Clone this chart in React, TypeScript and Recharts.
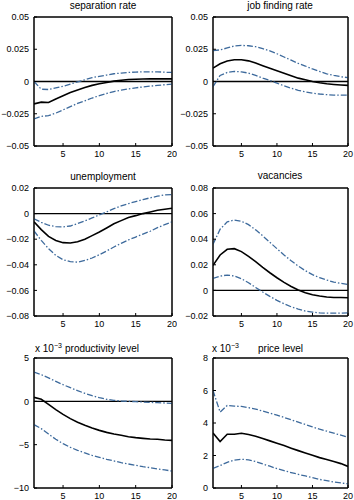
import React from 'react'
import { LineChart, Line, XAxis, YAxis, ReferenceLine, ReferenceArea } from 'recharts'

// horizon (quarters)
const steps = [1, 2, 3, 4, 5, 6, 7, 8, 9, 10, 11, 12, 13, 14, 15, 16, 17, 18, 19, 20]
const xTicks = [5, 10, 15, 20]

// separation rate
const sepMid = [-0.0174, -0.016, -0.0163, -0.0135, -0.011, -0.0086, -0.0065, -0.0047, -0.003, -0.0018, -0.0008, 0.0003, 0.001, 0.0015, 0.0018, 0.0019, 0.002, 0.002, 0.002, 0.002]
const sepUp = [0, -0.006, -0.0062, -0.005, -0.0037, -0.002, -0.0003, 0.0013, 0.003, 0.004, 0.005, 0.006, 0.0065, 0.007, 0.0073, 0.0075, 0.0075, 0.0075, 0.0072, 0.007]
const sepLo = [-0.029, -0.027, -0.0265, -0.0245, -0.022, -0.0195, -0.017, -0.015, -0.0128, -0.011, -0.0093, -0.0078, -0.0067, -0.0057, -0.0049, -0.0042, -0.0036, -0.003, -0.0025, -0.002]

// job finding rate
const jfMid = [0.0104, 0.0138, 0.0159, 0.0169, 0.0169, 0.016, 0.0143, 0.0122, 0.0102, 0.0083, 0.0063, 0.0044, 0.0026, 0.0013, 0, -0.001, -0.0018, -0.0023, -0.0027, -0.003]
const jfUp = [0.024, 0.0245, 0.026, 0.0275, 0.028, 0.0277, 0.027, 0.0255, 0.0237, 0.0215, 0.019, 0.0165, 0.014, 0.012, 0.0097, 0.0078, 0.006, 0.0047, 0.0037, 0.003]
const jfLo = [-0.004, 0.0047, 0.007, 0.0078, 0.0075, 0.0065, 0.0047, 0.0026, 0.0008, -0.0013, -0.0034, -0.0052, -0.0068, -0.008, -0.009, -0.0097, -0.0102, -0.0105, -0.0106, -0.0106]

// unemployment
const unMid = [-0.0065, -0.0125, -0.0178, -0.021, -0.0227, -0.023, -0.022, -0.02, -0.0172, -0.0144, -0.0112, -0.008, -0.0055, -0.003, -0.0016, 0, 0.0013, 0.0026, 0.0034, 0.0042]
const unUp = [-0.004, -0.0068, -0.0091, -0.0102, -0.0104, -0.0097, -0.0078, -0.0057, -0.0034, -0.001, 0.0013, 0.0039, 0.006, 0.0078, 0.0094, 0.011, 0.0123, 0.0136, 0.0146, 0.0149]
const unLo = [-0.0136, -0.0209, -0.0274, -0.0326, -0.036, -0.0376, -0.0379, -0.0366, -0.0347, -0.0321, -0.0292, -0.0261, -0.0232, -0.0206, -0.0183, -0.016, -0.0138, -0.011, -0.0086, -0.0065]

// vacancies
const vacMid = [0.0196, 0.0277, 0.0321, 0.0326, 0.0303, 0.0266, 0.0225, 0.018, 0.0138, 0.0099, 0.0063, 0.0031, 0.0003, -0.0018, -0.0034, -0.0044, -0.0052, -0.0055, -0.0056, -0.0057]
const vacUp = [0.036, 0.0478, 0.0535, 0.055, 0.054, 0.0514, 0.0473, 0.0426, 0.0376, 0.0326, 0.0277, 0.0232, 0.019, 0.0154, 0.0123, 0.0099, 0.0081, 0.0065, 0.0055, 0.0047]
const vacLo = [0.0094, 0.0112, 0.012, 0.0112, 0.0091, 0.006, 0.0023, -0.0013, -0.0047, -0.0078, -0.0104, -0.0128, -0.0146, -0.0162, -0.017, -0.0175, -0.0178, -0.0178, -0.0177, -0.0175]

// productivity level (x 10^-3)
const prodMid = [0.46, 0.23, -0.35, -0.96, -1.5, -2.0, -2.42, -2.77, -3.08, -3.35, -3.58, -3.77, -3.92, -4.08, -4.19, -4.27, -4.35, -4.38, -4.46, -4.5]
const prodUp = [3.38, 3.08, 2.7, 2.31, 1.92, 1.58, 1.23, 0.92, 0.65, 0.42, 0.23, 0.12, 0.04, 0, -0.04, -0.08, -0.12, -0.15, -0.19, -0.23]
const prodLo = [-2.69, -3.15, -3.77, -4.38, -4.88, -5.31, -5.65, -5.96, -6.23, -6.46, -6.69, -6.88, -7.08, -7.23, -7.38, -7.54, -7.65, -7.81, -7.92, -8.04]

// price level (x 10^-3)
const priceMid = [3.39, 2.86, 3.31, 3.31, 3.37, 3.29, 3.19, 3.05, 2.9, 2.76, 2.61, 2.45, 2.3, 2.16, 2.02, 1.87, 1.75, 1.63, 1.5, 1.33]
const priceUp = [6.0, 4.67, 5.08, 5.04, 5.02, 4.94, 4.86, 4.73, 4.61, 4.49, 4.34, 4.2, 4.05, 3.91, 3.76, 3.62, 3.5, 3.37, 3.25, 3.13]
const priceLo = [1.21, 1.38, 1.58, 1.71, 1.77, 1.73, 1.63, 1.48, 1.34, 1.19, 1.07, 0.95, 0.84, 0.74, 0.64, 0.53, 0.45, 0.37, 0.31, 0.25]

const bandColor = '#3d6a9c'
const font = '"Liberation Sans", Arial, sans-serif'

const fmt = (v: number) => String(v).replace('-', '\u2212')

type PanelProps = {
  left: number
  top: number
  height: number
  plotTop: number
  yWidth: number
  rightGap: number
  mid: number[]
  up: number[]
  lo: number[]
  yDomain: [number, number]
  yTicks: number[]
  zeroLine?: boolean
}

function Panel(p: PanelProps) {
  const data = steps.map((s, i) => ({ step: s, mid: p.mid[i], up: p.up[i], lo: p.lo[i] }))
  return (
    <div style={{ position: 'absolute', left: p.left, top: p.top }}>
      <LineChart
        width={177}
        height={p.height}
        data={data}
        margin={{ top: p.plotTop - 1, right: p.rightGap - 1, bottom: 0, left: 0 }}
      >
        <XAxis
          dataKey="step"
          type="number"
          domain={[1, 20]}
          ticks={xTicks}
          interval={0}
          allowDataOverflow
          tickSize={-3}
          tickMargin={8}
          height={16}
          stroke="#000"
          tick={{ fill: '#000', fontSize: 9 }}
        />
        {/* mirrored axes: inward ticks on top and right, no labels */}
        <XAxis
          xAxisId="top"
          orientation="top"
          dataKey="step"
          type="number"
          domain={[1, 20]}
          ticks={xTicks}
          interval={0}
          tick={false}
          tickSize={-3}
          height={1}
          stroke="#000"
        />
        <YAxis
          type="number"
          domain={p.yDomain}
          ticks={p.yTicks}
          interval={0}
          allowDataOverflow
          width={p.yWidth}
          tickSize={-3}
          tickMargin={8}
          tickFormatter={fmt}
          stroke="#000"
          tick={{ fill: '#000', fontSize: 9 }}
        />
        <YAxis
          yAxisId="right"
          orientation="right"
          type="number"
          domain={p.yDomain}
          ticks={p.yTicks}
          interval={0}
          tick={false}
          tickSize={-3}
          width={1}
          stroke="#000"
        />
        <ReferenceArea x1={1} x2={20} y1={p.yDomain[0]} y2={p.yDomain[1]} fill="none" stroke="#000" strokeWidth={1} />
        {p.zeroLine && <ReferenceLine y={0} stroke="#000" strokeWidth={1.3} />}
        <Line type="linear" dataKey="up" stroke={bandColor} strokeWidth={1.3} strokeDasharray="6 2 1.5 2" dot={false} isAnimationActive={false} />
        <Line type="linear" dataKey="lo" stroke={bandColor} strokeWidth={1.3} strokeDasharray="6 2 1.5 2" dot={false} isAnimationActive={false} />
        <Line type="linear" dataKey="mid" stroke="#000" strokeWidth={1.6} dot={false} isAnimationActive={false} />
      </LineChart>
    </div>
  )
}

const titleStyle: React.CSSProperties = {
  position: 'absolute',
  fontSize: 10,
  lineHeight: '12px',
  color: '#000',
  textAlign: 'center',
  whiteSpace: 'nowrap',
}

const supStyle: React.CSSProperties = { fontSize: 7, verticalAlign: 4, lineHeight: 0 }

export default function App() {
  return (
    <div style={{ position: 'absolute', left: 0, top: 0, width: 354, height: 500, background: '#fff', overflow: 'hidden', fontFamily: font }}>
      {/* row 1 */}
      <div style={{ ...titleStyle, left: 34, top: 0, width: 138 }}>separation rate</div>
      <div style={{ ...titleStyle, left: 212, top: 0, width: 136 }}>job finding rate</div>
      <Panel left={0} top={0} height={162} plotTop={17} yWidth={34} rightGap={5}
        mid={sepMid} up={sepUp} lo={sepLo} yDomain={[-0.05, 0.05]} yTicks={[-0.05, -0.025, 0, 0.025, 0.05]} zeroLine />
      <Panel left={177} top={0} height={162} plotTop={17} yWidth={36} rightGap={6}
        mid={jfMid} up={jfUp} lo={jfLo} yDomain={[-0.05, 0.05]} yTicks={[-0.05, -0.025, 0, 0.025, 0.05]} zeroLine />

      {/* row 2 */}
      <div style={{ ...titleStyle, left: 34, top: 171, width: 138 }}>unemployment</div>
      <div style={{ ...titleStyle, left: 212, top: 170, width: 136 }}>vacancies</div>
      <Panel left={0} top={165} height={167} plotTop={23} yWidth={34} rightGap={5}
        mid={unMid} up={unUp} lo={unLo} yDomain={[-0.08, 0.02]} yTicks={[-0.08, -0.06, -0.04, -0.02, 0, 0.02]} zeroLine />
      <Panel left={177} top={165} height={167} plotTop={23} yWidth={36} rightGap={6}
        mid={vacMid} up={vacUp} lo={vacLo} yDomain={[-0.02, 0.08]} yTicks={[-0.02, 0, 0.02, 0.04, 0.06, 0.08]} zeroLine />

      {/* row 3 */}
      <div style={{ ...titleStyle, left: 35, top: 343, textAlign: 'left' }}>x 10<sup style={supStyle}>−3</sup></div>
      <div style={{ ...titleStyle, left: 65, top: 343, textAlign: 'left' }}>productivity level</div>
      <div style={{ ...titleStyle, left: 212, top: 343, textAlign: 'left' }}>x 10<sup style={supStyle}>−3</sup></div>
      <div style={{ ...titleStyle, left: 258, top: 343, textAlign: 'left' }}>price level</div>
      <Panel left={0} top={330} height={174} plotTop={28} yWidth={34} rightGap={5}
        mid={prodMid} up={prodUp} lo={prodLo} yDomain={[-10, 5]} yTicks={[-10, -5, 0, 5]} zeroLine />
      <Panel left={177} top={330} height={174} plotTop={28} yWidth={36} rightGap={6}
        mid={priceMid} up={priceUp} lo={priceLo} yDomain={[0, 8]} yTicks={[0, 2, 4, 6, 8]} />
    </div>
  )
}
